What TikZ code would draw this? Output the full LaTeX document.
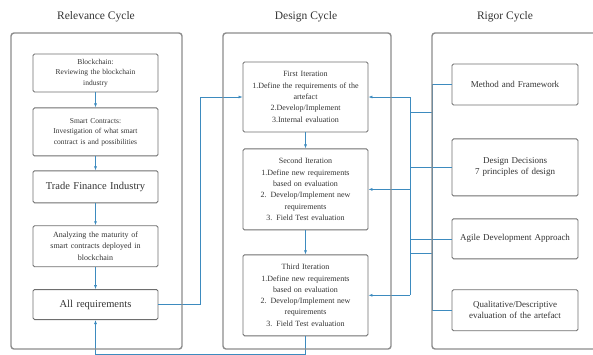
\documentclass[tikz,border=0pt]{standalone}
\usepackage{fontspec}
\setmainfont{Liberation Serif}
\usetikzlibrary{arrows.meta, positioning}
\definecolor{cyclegray}{HTML}{8C8C8C}
\definecolor{boxgray}{HTML}{6E6E6E}
\definecolor{linkblue}{HTML}{3D8BBF}
\definecolor{textgray}{HTML}{333333}

\begin{document}
\begin{tikzpicture}[
    x=1pt, y=-1pt,
    frame/.style={draw=cyclegray, line width=1.4pt, rounded corners=3pt},
    title/.style={font=\fontsize{11.5}{13}\selectfont, text=textgray},
    box/.style={rectangle, draw=boxgray, line width=0.9pt, rounded corners=1.5pt, align=center, text=textgray, inner xsep=3pt, inner ysep=2pt, text width=119pt, font=\fontsize{8}{11.3}\selectfont},
    rbox/.style={box, text width=120pt, font=\fontsize{9}{11}\selectfont},
    link/.style={draw=linkblue, line width=0.6pt},
    flow/.style={link, -{Latex[length=4pt, width=3pt]}}
  ]
  \useasboundingbox (0,0) rectangle (593,354);

  % Cycle titles
  \node[title] (relevance) at (96,17) {Relevance Cycle};
  \node[title] (design) at (306,17) {Design Cycle};
  \node[title] (rigor) at (505,17) {Rigor Cycle};

  % Relevance cycle
  \node[box, minimum height=38pt, font=\fontsize{7.5}{10.5}\selectfont] (R1) at (95.5,73) {Blockchain:\\Reviewing the blockchain\\industry};
  \node[box, minimum height=48pt, font=\fontsize{7.5}{10.5}\selectfont, below=15pt of R1] (R2) {Smart Contracts:\\Investigation of what smart\\contract is and possibilities};
  \node[box, minimum height=32pt, font=\fontsize{10.5}{12}\selectfont, below=14pt of R2] (R3) {Trade Finance Industry};
  \node[box, minimum height=41pt, font=\fontsize{8}{11.5}\selectfont, below=22pt of R3] (R4) {Analyzing the maturity of\\smart contracts deployed in\\blockchain};
  \node[box, minimum height=30pt, font=\fontsize{10.5}{12}\selectfont, below=22pt of R4] (R5) {All requirements};

  % Design cycle
  \node[box, minimum height=70pt] (D1) at (305.5,97) {First Iteration\\1.Define the requirements of the\\artefact\\2.Develop/Implement\\3.Internal evaluation};
  \node[box, minimum height=81pt, below=16pt of D1] (D2) {Second Iteration\\1.Define new requirements\\based on evaluation\\2. Develop/Implement new\\requirements\\3. Field Test evaluation};
  \node[box, minimum height=81pt, below=24pt of D2] (D3) {Third Iteration\\1.Define new requirements\\based on evaluation\\2. Develop/Implement new\\requirements\\3. Field Test evaluation};

  % Rigor cycle
  \node[rbox, minimum height=41pt] (G1) at (515,84.5) {Method and Framework};
  \node[rbox, minimum height=57pt, below=33pt of G1] (G2) {Design Decisions\\7 principles of design};
  \node[rbox, minimum height=40pt, below=22pt of G2] (G3) {Agile Development Approach};
  \node[rbox, minimum height=41pt, below=30pt of G3] (G4) {Qualitative/Descriptive\\evaluation of the artefact};

  % Connectors
  \foreach \a/\b in {R1/R2, R2/R3, R3/R4, R4/R5}
    \draw[flow] (\a) -- (\b);
  \draw[flow] (D1) -- (D2);
  \draw[flow] (D2) -- (D3);
  \draw[flow] (R5.east) -- ++(42,0) |- (D1.west);
  \draw[flow] (D3.south) -- ++(0,18) -| (R5.south);

  \coordinate (bus) at (410,97);
  \coordinate (rail) at (432,84.5);
  \draw[link] (bus) -- (bus |- D3.east);
  \foreach \d in {D1,D2,D3}
    \draw[flow] (bus |- \d.east) -- (\d.east);
  \draw[link] (G1.west) -- (rail) -- (rail |- G4.west) -- (G4.west);
  \foreach \g in {G2,G3}
    \draw[link] (\g.west) -- (bus |- \g.west);
  \foreach \y in {112,253}
    \draw[link] (rail |- 0,\y) -- (bus |- 0,\y);

  % Cycle frames
  \draw[frame] (11,33) rectangle (182,349);
  \draw[frame] (223,33) rectangle (391,349);
  \draw[frame] (600,33) -- (432,33) -- (432,349) -- (600,349);
\end{tikzpicture}
\end{document}
